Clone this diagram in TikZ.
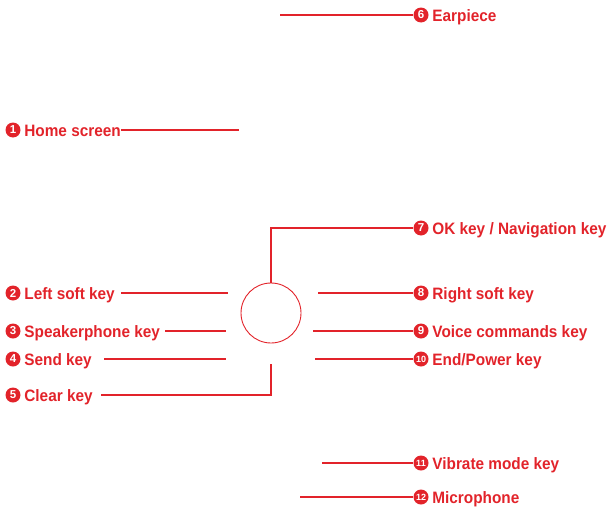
\documentclass[tikz,border=0pt]{standalone}
\usepackage{fontspec}
\setmainfont{Liberation Sans}
\newfontfamily\narrowfont[FakeStretch=0.93]{Liberation Sans}
\usetikzlibrary{positioning}
\definecolor{calloutred}{RGB}{226, 35, 42}

\begin{document}
\begin{tikzpicture}[x=1pt, y=-1pt,
  numdot/.style={circle, fill=calloutred, text=white, inner sep=0pt, minimum size=15pt, font=\bfseries\fontsize{11.5}{11.5}\selectfont},
  lbl/.style={anchor=base west, at=(#1.east), xshift=3.5pt, yshift=-6pt, inner sep=0pt, text=calloutred, font=\narrowfont\bfseries\fontsize{16.5}{18}\selectfont},
  lead/.style={calloutred, line width=1.3pt}]
\useasboundingbox (0,0) rectangle (610,506);
% the key in the middle
\node[circle, draw=calloutred, line width=0.9pt, minimum size=60pt, inner sep=0pt] (key) at (271,313) {};
% numbered callouts, left column
\node[numdot] (n1) at (13,130) {1};
\node[lbl=n1] (t1) {Home screen};
\node[numdot] (n2) at (13,293) {2};
\node[lbl=n2] (t2) {Left soft key};
\node[numdot] (n3) at (13,331) {3};
\node[lbl=n3] (t3) {Speakerphone key};
\node[numdot] (n4) at (13,359) {4};
\node[lbl=n4] (t4) {Send key};
\node[numdot] (n5) at (13,395) {5};
\node[lbl=n5] (t5) {Clear key};
% numbered callouts, right column
\node[numdot] (n6) at (421,15) {6};
\node[lbl=n6] (t6) {Earpiece};
\node[numdot] (n7) at (421,228) {7};
\node[lbl=n7] (t7) {OK key / Navigation key};
\node[numdot] (n8) at (421,293) {8};
\node[lbl=n8] (t8) {Right soft key};
\node[numdot] (n9) at (421,331) {9};
\node[lbl=n9] (t9) {Voice commands key};
\node[numdot] (n10) at (421,359) {\fontsize{9}{9}\selectfont 10};
\node[lbl=n10] (t10) {End/Power key};
\node[numdot] (n11) at (421,463) {\fontsize{9}{9}\selectfont 11};
\node[lbl=n11] (t11) {Vibrate mode key};
\node[numdot] (n12) at (421,497) {\fontsize{9}{9}\selectfont 12};
\node[lbl=n12] (t12) {Microphone};
% free ends of the leader lines
\coordinate (c1) at (239,130);
\coordinate (c2) at (228,293);
\coordinate (c3) at (226,331);
\coordinate (c4) at (226,359);
\coordinate (c5) at (101,395);
\coordinate (c5b) at (271,364);
\coordinate (c6) at (280,15);
\coordinate (c8) at (318,293);
\coordinate (c9) at (313,331);
\coordinate (c10) at (315,359);
\coordinate (c11) at (322,463);
\coordinate (c12) at (300,497);
% leader lines
\draw[lead] (t1.east |- n1) -- (c1);
\draw[lead] (c2 -| 121,0) -- (c2);
\draw[lead] (c3 -| 165,0) -- (c3);
\draw[lead] (c4 -| 104,0) -- (c4);
\draw[lead] (c5) -| (c5b);
\draw[lead] (c6) -- (n6);
\draw[lead] (key.north) |- (n7);
\draw[lead] (c8) -- (n8);
\draw[lead] (c9) -- (n9);
\draw[lead] (c10) -- (n10);
\draw[lead] (c11) -- (n11);
\draw[lead] (c12) -- (n12);
\end{tikzpicture}
\end{document}
